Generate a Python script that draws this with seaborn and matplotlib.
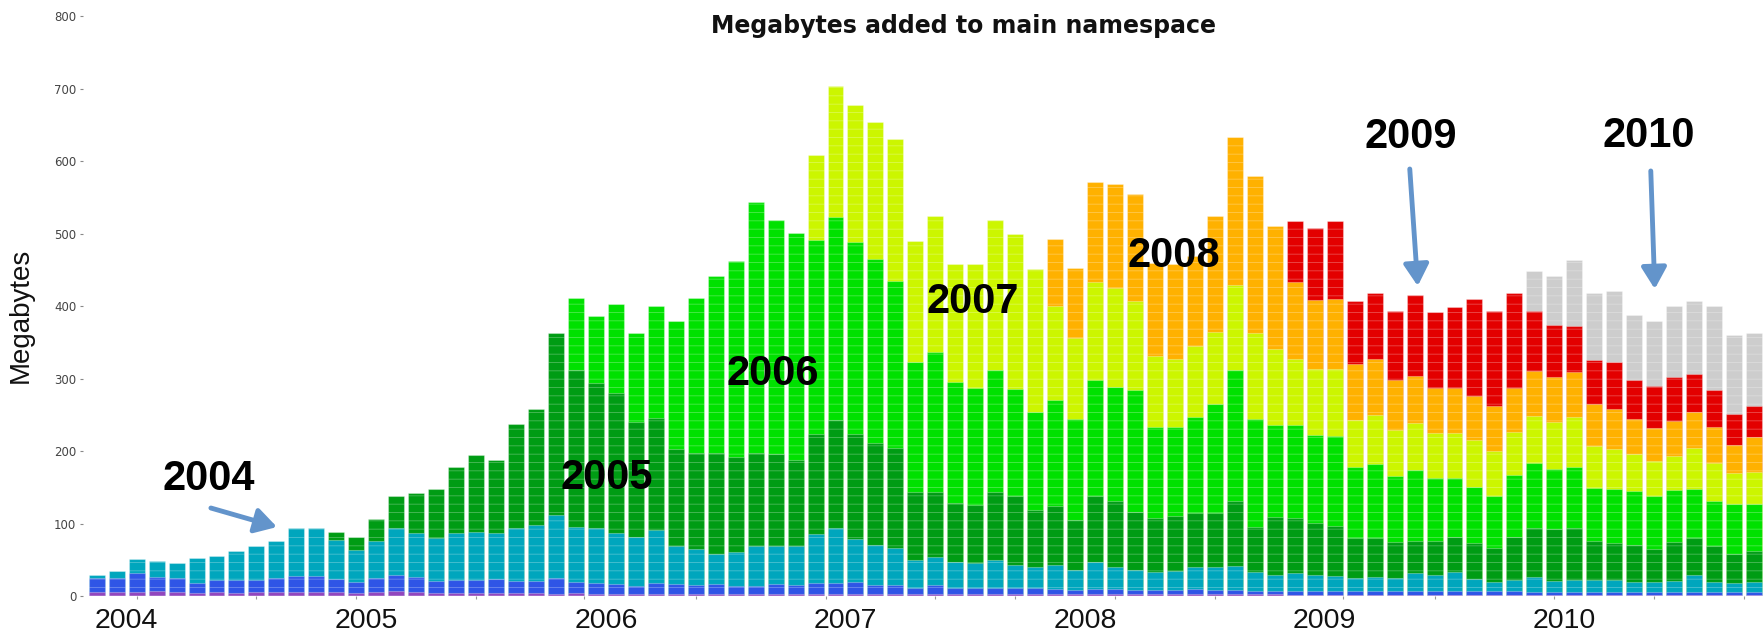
import numpy as np
import pandas as pd
import matplotlib
matplotlib.use("Agg")
import matplotlib.pyplot as plt
import seaborn as sns

sns.set_style("white")
plt.rcParams["font.family"] = ["Liberation Sans", "DejaVu Sans"]
plt.rcParams["hatch.linewidth"] = 0.6

# ---------------- data (stacked boundaries, MB, one value per month) ----------------
months = pd.period_range("2004-01", periods=84, freq="M").strftime("%Y-%m").tolist()
year_labels = ["2004", "2005", "2006", "2007", "2008", "2009", "2010"]

# cumulative top of each editor cohort (bottom layer first)
top_pre2003 = [6, 6, 6, 7, 6, 5, 6, 5, 6, 6, 6, 6,
               6, 5, 6, 7, 6, 5, 5, 5, 5, 5, 5, 4,
               5, 4, 4, 4, 4, 4, 4, 4, 4, 4, 4, 4,
               3, 3, 3, 3, 3, 3, 3, 3, 3, 3, 3, 3,
               3, 3, 3, 3, 3, 3, 3, 3, 3, 3, 3, 3,
               2, 2, 2, 2, 2, 2, 2, 2, 2, 2, 2, 2,
               2, 2, 2, 2, 2, 2, 2, 2, 2, 2, 2, 2]
top_2003 = [25, 26, 32, 27, 25, 19, 22, 22, 22, 26, 28, 28,
            24, 20, 25, 30, 27, 21, 23, 23, 24, 21, 21, 25,
            20, 18, 17, 15, 18, 17, 16, 17, 15, 15, 17, 16,
            18, 19, 20, 16, 16, 12, 16, 12, 11, 12, 11, 11,
            10, 9, 10, 10, 9, 9, 9, 10, 9, 9, 7, 7,
            8, 7, 7, 7, 7, 7, 7, 7, 7, 7, 7, 7,
            6, 6, 6, 6, 6, 6, 6, 6, 6, 6, 6, 6]
top_2004 = [29, 35, 51, 49, 46, 53, 56, 63, 69, 76, 95, 94,
            78, 64, 77, 94, 87, 81, 88, 89, 88, 95, 98, 112,
            96, 95, 87, 82, 92, 70, 65, 59, 61, 70, 69, 69,
            86, 95, 79, 71, 67, 50, 55, 48, 46, 50, 43, 41,
            43, 36, 47, 41, 36, 33, 35, 40, 40, 42, 33, 29,
            32, 30, 28, 25, 27, 26, 32, 30, 33, 24, 20, 23,
            27, 21, 23, 23, 23, 20, 20, 21, 29, 20, 18, 20]
top_2005 = [89, 82, 107, 138, 142, 148, 178, 195, 188, 238, 259, 363,
            312, 294, 280, 240, 246, 204, 198, 198, 192, 198, 196, 188,
            224, 243, 224, 211, 205, 144, 144, 129, 126, 144, 139, 119,
            125, 106, 138, 132, 116, 108, 111, 115, 115, 132, 96, 109,
            108, 101, 97, 80, 80, 75, 76, 76, 82, 73, 67, 82,
            94, 93, 94, 76, 73, 71, 65, 75, 80, 69, 59, 62]
top_2006 = [411, 387, 403, 363, 401, 380, 411, 442, 462, 544, 519, 501,
            491, 523, 489, 466, 435, 324, 337, 296, 288, 312, 286, 255,
            271, 245, 299, 289, 285, 233, 233, 248, 266, 312, 245, 236,
            236, 222, 221, 178, 183, 166, 174, 163, 163, 151, 139, 167,
            184, 176, 178, 149, 148, 145, 138, 147, 148, 132, 127, 128]
top_2007 = [609, 704, 678, 655, 631, 490, 525, 458, 458, 519, 500, 451,
            401, 356, 434, 425, 407, 332, 327, 346, 365, 430, 363, 341,
            327, 314, 314, 243, 250, 229, 239, 226, 225, 216, 201, 227,
            249, 241, 247, 207, 203, 197, 187, 194, 205, 184, 170, 172]
top_2008 = [493, 453, 572, 569, 555, 460, 458, 470, 525, 633, 580, 511,
            433, 409, 410, 320, 327, 299, 304, 287, 288, 277, 263, 287,
            311, 302, 309, 266, 259, 245, 232, 242, 255, 234, 209, 220]
top_2009 = [518, 508, 518, 407, 419, 394, 416, 392, 399, 410, 394, 418,
            394, 375, 373, 326, 323, 299, 290, 302, 307, 285, 252, 263]
top_2010 = [449, 442, 464, 419, 421, 388, 380, 401, 408, 401, 361, 364]

cohorts = ["pre-2003", "2003", "2004", "2005", "2006", "2007", "2008", "2009", "2010"]
cohort_tops = [top_pre2003, top_2003, top_2004, top_2005, top_2006,
               top_2007, top_2008, top_2009, top_2010]
cohort_colors = ["#9146bd", "#2f55e6", "#00a6bd", "#009c14", "#00e100",
                 "#ccf600", "#ffb100", "#e30000", "#cdcdcd"]

# ---------------- figure ----------------
W, H = 1765, 637
fig = plt.figure(figsize=(W / 100, H / 100), dpi=100)
ax = fig.add_axes([86.7 / W, 40.6 / H, (1764 - 86.7) / W, 580 / H])

# draw stacked bars: from top cohort down, each bar from 0 to its cumulative top
for name, tops, col in list(zip(cohorts, cohort_tops, cohort_colors))[::-1]:
    df = pd.DataFrame({"month": months[len(months) - len(tops):], "mb": tops})
    sns.barplot(data=df, x="month", y="mb", order=months, color=col,
                saturation=1, errorbar=None, width=0.8,
                edgecolor=(1, 1, 1, 0.3), linewidth=0.8, hatch="--", ax=ax)

ax.set_xlim(-0.5, 83.5)
ax.set_ylim(0, 800)
for s in ax.spines.values():
    s.set_visible(False)
ax.spines["left"].set_position(("outward", 3))

ax.set_yticks(range(0, 801, 100))
ax.tick_params(axis="y", length=2.5, width=0.8, color="#888888", pad=2,
               labelsize=8.5, labelcolor="#444444", left=True)
for t in ax.get_yticklabels():
    t.set_fontfamily("DejaVu Sans")

ax.set_xticks([1.5 + 12 * k for k in range(len(year_labels))])
ax.set_xticklabels(year_labels, fontsize=20.5, color="#111111")
ax.set_xticks([2, 8, 13, 19, 24.4, 30, 36.5, 42, 46, 51, 56, 62.4, 67, 73, 78, 82.5],
              minor=True)
ax.tick_params(axis="x", which="major", length=0, pad=8, bottom=False)
ax.tick_params(axis="x", which="minor", length=2.5, width=0.8, color="#999999",
               bottom=True)

ax.set_xlabel("")
ax.set_ylabel("Megabytes", fontsize=20, color="#111111")
ax.yaxis.set_label_coords(-0.0314, 0.485)

ax.set_title("Megabytes added to main namespace", x=0.523, y=0.9697, va="center",
             fontsize=17, fontweight="bold", family="DejaVu Sans", color="#111111")

# big year annotations
ann = [("2004", 5.63, 146.8), ("2005", 25.53, 147.5), ("2006", 33.87, 292),
       ("2007", 43.86, 390.5), ("2008", 53.95, 454.8), ("2009", 65.8, 618.5),
       ("2010", 77.73, 620)]
for txt, x, y in ann:
    ax.text(x, y, txt, ha="center", va="baseline", fontsize=30,
            fontweight="bold", color="black", zorder=10)

arrow_col = "#6394cb"
for (x0, y0), (x1, y1) in [((5.72, 121.9), (9.03, 95.7)),
                           ((65.76, 589.5), (66.16, 428.1)),
                           ((77.83, 586.8), (78.03, 424.0))]:
    ax.annotate("", xy=(x1, y1), xytext=(x0, y0),
                arrowprops=dict(arrowstyle="-|>,head_length=0.65,head_width=0.38",
                                lw=3.5, color=arrow_col, shrinkA=0, shrinkB=0,
                                mutation_scale=20),
                zorder=10)

fig.savefig("out.png", dpi=100)
